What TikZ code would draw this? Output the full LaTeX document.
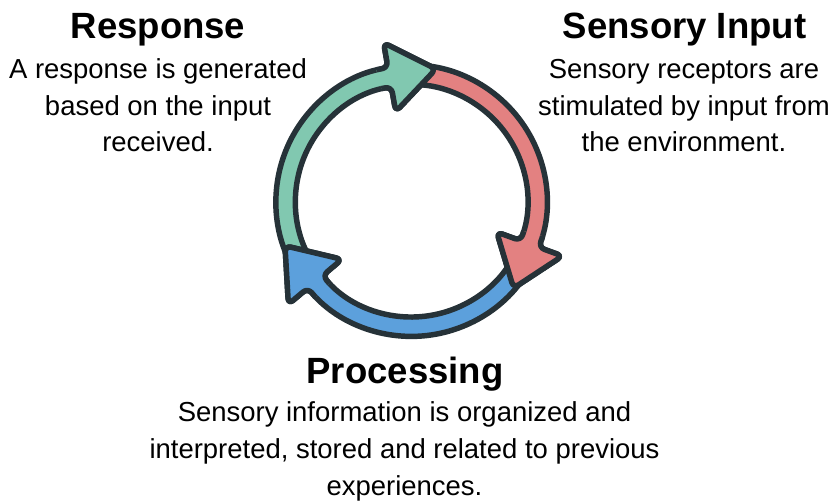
\documentclass[tikz,border=0pt]{standalone}
\usepackage{fontspec}
\setmainfont{Liberation Sans}
\usetikzlibrary{calc}

\definecolor{ringgreen}{HTML}{81C8B0}
\definecolor{ringred}{HTML}{E38181}
\definecolor{ringblue}{HTML}{5CA0DC}
\definecolor{inkdark}{HTML}{263238}

% ring geometry (units: 1 = 0.75pt, y pointing down, angles clockwise)
\def\Rc{125.7}  % centre line of the band
\def\Ro{135.4}  % outer edge of the band
\def\Ri{116.0}  % inner edge of the band
\def\hw{35}     % half width of an arrow head
\def\hl{47}     % length of an arrow head

% one curved arrow: #1 fill colour, #2 tail angle, #3 angle of the head's base
\newcommand\looparrow[3]{%
  \filldraw[ringpart, fill=#1]
    (#2:\Ro) arc[start angle=#2, end angle=#3, radius=\Ro]
    -- (#3:{\Rc+\hw})
    -- ($(#3:\Rc)+({#3+90}:\hl)$)
    -- (#3:{\Rc-\hw})
    -- (#3:\Ri) arc[start angle=#3, end angle=#2, radius=\Ri]
    -- cycle;}

% the head of an arrow again, on top of the following arrow's tail
\newcommand\loophead[3]{%
  \begin{scope}
    \clip (0,0) -- ({#3-5}:240) -- ({#3+15}:240) -- ({#3+35}:240) -- cycle;
    \looparrow{#1}{#2}{#3}
  \end{scope}}

\tikzset{
  ringpart/.style={draw=inkdark, line width=4.1pt, line join=round, rounded corners=4.5pt},
  headline/.style={font=\fontsize{27.4}{33}\selectfont\bfseries, anchor=base, inner sep=0pt, text=black},
  bodytext/.style={font=\fontsize{20.6}{27.5}\selectfont, anchor=base, inner sep=0pt, text=black},
  bodywide/.style={font=\fontsize{20.6}{27.8}\selectfont, anchor=base, inner sep=0pt, text=black},
}

\begin{document}
\begin{tikzpicture}[x=0.75pt, y=-0.75pt]
  \useasboundingbox (-411.5,-201) rectangle (422.5,299);

  % the three arrows of the cycle
  \looparrow{ringgreen}{145}{260}
  \looparrow{ringred}{265}{380}
  \looparrow{ringblue}{25}{140}
  \loophead{ringgreen}{145}{260}
  \loophead{ringred}{265}{380}
  \loophead{ringblue}{25}{140}

  % labels
  \node[headline] (response-title) at (-253.5,-162.5) {Response};
  \node[bodytext] (response-text) at (-253.5,-122.5)
    {\begin{tabular}[t]{@{}c@{}}A response is generated\\based on the input\\received.\end{tabular}};

  \node[headline] (input-title) at (273,-162.5) {Sensory Input};
  \node[bodytext] (input-text) at (272.5,-122.5)
    {\begin{tabular}[t]{@{}c@{}}Sensory receptors are\\stimulated by input from\\the environment.\end{tabular}};

  \node[headline] (processing-title) at (-6.5,182.3) {Processing};
  \node[bodywide] (processing-text) at (-7,220.3)
    {\begin{tabular}[t]{@{}c@{}}Sensory information is organized and\\interpreted, stored and related to previous\\experiences.\end{tabular}};
\end{tikzpicture}
\end{document}
